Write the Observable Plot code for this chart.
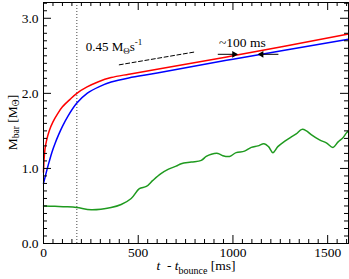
<!DOCTYPE html>
<html>
<head>
<meta charset="utf-8">
<script src="https://cdn.jsdelivr.net/npm/d3@7"></script>
<script src="https://cdn.jsdelivr.net/npm/@observablehq/plot@0.6"></script>
<style>
  html, body { margin: 0; padding: 0; background: #fff; }
  svg { overflow: visible; }
  svg, svg text { font-family: "Liberation Serif" !important; }
</style>
</head>
<body>
<div id="chart"></div>
<script>
// Red curve
const tRed = [0, 3, 8, 16, 30, 50, 75, 100, 140, 176, 230, 290, 357, 450, 600, 1000, 1610];
const mRed = [0.95, 1.12, 1.26, 1.37, 1.50, 1.62, 1.73, 1.82, 1.92, 2.00, 2.085, 2.155, 2.21, 2.255, 2.32, 2.50, 2.79];
// Blue curve
const tBlue = [0, 15, 30, 45, 62, 80, 100, 130, 176, 230, 295, 357, 450, 600, 1000, 1610];
const mBlue = [0.8, 0.95, 1.09, 1.22, 1.34, 1.45, 1.56, 1.70, 1.87, 2.00, 2.09, 2.15, 2.205, 2.27, 2.455, 2.72];
// Green curve
const tGreen = [0, 60, 120, 176, 252, 357, 410, 463, 506, 543, 577, 620, 660, 700, 727, 780, 833, 859, 886, 921, 947, 982, 1017, 1061, 1097, 1132, 1164, 1188, 1211, 1237, 1272, 1308, 1334, 1364, 1388, 1413, 1457, 1493, 1528, 1554, 1581, 1598, 1610];
const mGreen = [0.50, 0.495, 0.49, 0.48, 0.45, 0.48, 0.52, 0.60, 0.73, 0.76, 0.84, 0.93, 0.99, 1.03, 1.063, 1.085, 1.107, 1.16, 1.19, 1.20, 1.17, 1.16, 1.21, 1.23, 1.28, 1.30, 1.33, 1.29, 1.21, 1.29, 1.36, 1.42, 1.46, 1.52, 1.50, 1.45, 1.38, 1.34, 1.28, 1.35, 1.41, 1.47, 1.50];
// Bounce-time marker
const tDotted = [176];
// Slope guide (0.45 Msun/s)
const slopeT = [400, 796];
const slopeM = [2.38, 2.55];
// ~100 ms arrows
const arrowRight = {t1: 920, t2: 1017, m: 2.52};
const arrowLeft = {t1: 1240, t2: 1140, m: 2.52};
// ticks
const xMajor = [0, 500, 1000, 1500];
const xMinor = d3.range(0, 1611, 50).filter(v => v % 500 !== 0);
const yMajor = [0, 1, 2, 3];
const yMinor = d3.range(1, 33).map(v => v / 10).filter(v => Math.abs(v - Math.round(v)) > 1e-9);
const xDomain = [0, 1610];
const yDomain = [0, 3.21];

const red = tRed.map((t, i) => ({t, m: mRed[i]}));
const blue = tBlue.map((t, i) => ({t, m: mBlue[i]}));
const green = tGreen.map((t, i) => ({t, m: mGreen[i]}));
const slope = slopeT.map((t, i) => ({t, m: slopeM[i]}));

const W = 349, H = 279, mL = 43, mR = 1, mT = 2, mB = 36;
const ph = H - mT - mB, pw = W - mL - mR;
const minorLen = 4, majorLen = 8;
const font = "Liberation Serif";

const plot = Plot.plot({
  width: W, height: H,
  marginLeft: mL, marginRight: mR, marginTop: mT, marginBottom: mB,
  x: {domain: xDomain},
  y: {domain: yDomain},
  style: {fontFamily: font, fontSize: "13.5px", color: "#000", background: "#fff"},
  marks: [
    Plot.ruleX(tDotted, {stroke: "#444", strokeWidth: 1, strokeDasharray: "1,2"}),
    Plot.line(green, {x: "t", y: "m", stroke: "#1f9a1f", strokeWidth: 1.5, curve: "catmull-rom"}),
    Plot.line(blue, {x: "t", y: "m", stroke: "#0000ff", strokeWidth: 1.5, curve: "catmull-rom"}),
    Plot.line(red, {x: "t", y: "m", stroke: "#ff0000", strokeWidth: 1.5, curve: "catmull-rom"}),
    Plot.line(slope, {x: "t", y: "m", stroke: "#000", strokeWidth: 1, strokeDasharray: "4,2.5"}),
    Plot.link([arrowRight, arrowLeft], {x1: "t1", x2: "t2", y1: "m", y2: "m", stroke: "#000", strokeWidth: 1}),
    Plot.dot([arrowRight], {x: "t2", y: "m", symbol: "triangle2", r: 3.2, fill: "#000", rotate: 90, dx: -2}),
    Plot.dot([arrowLeft], {x: "t2", y: "m", symbol: "triangle2", r: 3.2, fill: "#000", rotate: -90, dx: 2}),
    Plot.text(["~100 ms"], {x: [1050], y: [2.68], text: d => d, fontSize: 13.5, fontFamily: font}),
    // inward ticks on all four sides
    Plot.tickX(xMinor, {x: d => d, insetTop: ph - minorLen, stroke: "#000"}),
    Plot.tickX(xMajor, {x: d => d, insetTop: ph - majorLen, stroke: "#000"}),
    Plot.tickX(xMinor, {x: d => d, insetBottom: ph - minorLen, stroke: "#000"}),
    Plot.tickX(xMajor, {x: d => d, insetBottom: ph - majorLen, stroke: "#000"}),
    Plot.tickY(yMinor, {y: d => d, insetRight: pw - minorLen, stroke: "#000"}),
    Plot.tickY(yMajor, {y: d => d, insetRight: pw - majorLen, stroke: "#000"}),
    Plot.tickY(yMinor, {y: d => d, insetLeft: pw - minorLen, stroke: "#000"}),
    Plot.tickY(yMajor, {y: d => d, insetLeft: pw - majorLen, stroke: "#000"}),
    Plot.axisX(xMajor, {tickSize: 0, tickPadding: 4, label: null, tickFormat: d3.format("d"), fontSize: 13.5, fontFamily: font}),
    Plot.axisY(yMajor, {tickSize: 0, tickPadding: 5, label: null, tickFormat: d3.format(".1f"), fontSize: 13.5, fontFamily: font}),
    Plot.frame({stroke: "#000", strokeWidth: 1})
  ]
});

const svg = d3.select(plot);
const xs = plot.scale("x"), ys = plot.scale("y");

// slope annotation: 0.45 M_Θ s^-1
const ann = svg.append("text")
  .attr("x", xs.apply(375)).attr("y", ys.apply(2.6) + 3)
  .attr("font-family", font).attr("font-size", 13).attr("fill", "#000");
ann.append("tspan").text("0.45 M");
ann.append("tspan").attr("font-size", 9).attr("dy", 3).text("Θ");
ann.append("tspan").attr("dy", -3).text("s");
ann.append("tspan").attr("font-size", 9).attr("dy", -6).text("-1");

// y label
const yl = svg.append("text")
  .attr("transform", `translate(12,${(mT + H - mB) / 2}) rotate(-90)`)
  .attr("text-anchor", "middle").attr("dominant-baseline", "central")
  .attr("font-family", font).attr("font-size", 13.5).attr("fill", "#000");
yl.append("tspan").text("M");
yl.append("tspan").attr("font-size", 9.5).attr("dy", 3.5).text("bar");
yl.append("tspan").attr("dy", -3.5).text(" [M");
yl.append("tspan").attr("font-size", 9.5).attr("dy", 3.5).text("Θ");
yl.append("tspan").attr("dy", -3.5).text("]");

// x label
const xl = svg.append("text")
  .attr("x", 196).attr("y", 270)
  .attr("text-anchor", "middle")
  .attr("font-family", font).attr("font-size", 13.5).attr("fill", "#000");
xl.append("tspan").attr("font-style", "italic").text("t");
xl.append("tspan").text("  - ");
xl.append("tspan").attr("font-style", "italic").text("t");
xl.append("tspan").attr("font-size", 10).attr("dy", 3.5).text("bounce");
xl.append("tspan").attr("dy", -3.5).text(" [ms]");

document.getElementById("chart").appendChild(plot);
</script>
</body>
</html>
